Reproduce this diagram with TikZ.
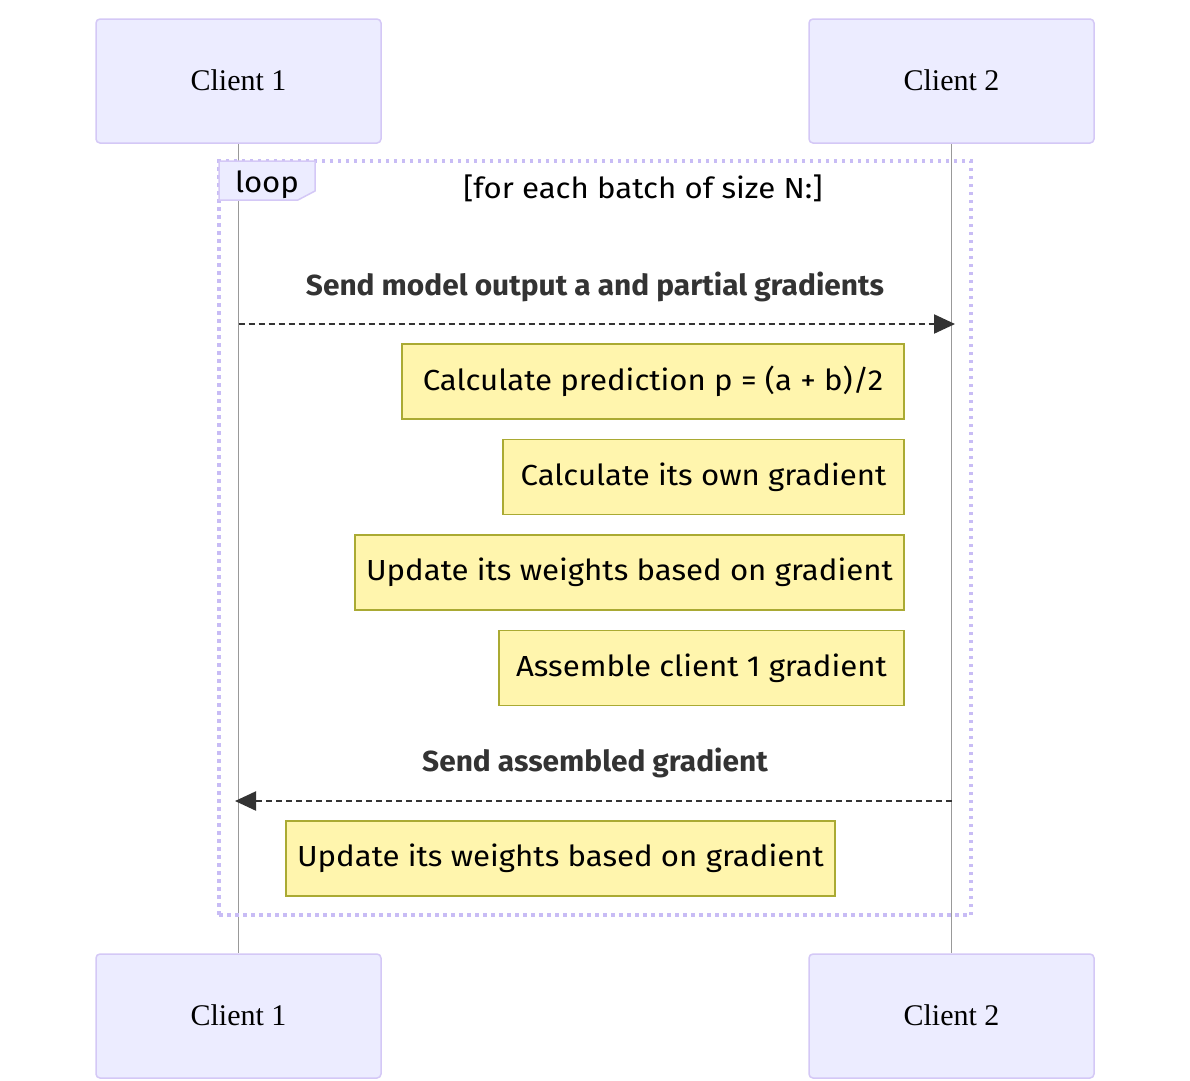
\documentclass[tikz,border=0pt]{standalone}
\usepackage{fontspec}
\setmainfont{Liberation Serif}
\newfontfamily\notefont[FakeStretch=1.076]{Fira Sans}
\newfontfamily\msgfont[FakeStretch=1.03]{Fira Sans}
\usetikzlibrary{arrows.meta}
\definecolor{actfill}{HTML}{ECECFF}
\definecolor{actdraw}{RGB}{212,200,246}
\definecolor{notefill}{HTML}{FFF5AD}
\definecolor{notedraw}{HTML}{AAAA33}
\definecolor{loopdraw}{RGB}{200,188,245}
\definecolor{msgcol}{HTML}{333333}
\definecolor{lifecol}{HTML}{999999}
\begin{document}
\begin{tikzpicture}[x=1pt,y=-1pt,
  actor/.style={draw=actdraw, fill=actfill, line width=1.5pt, rounded corners=4pt,
    minimum width=285pt, minimum height=124pt, inner sep=0pt,
    font=\fontsize{30}{36}\selectfont},
  notebox/.style={draw=notedraw, fill=notefill, line width=1.5pt, minimum height=75pt,
    inner sep=0pt, font=\notefont\fontsize{29}{34}\selectfont},
  msglabel/.style={text=msgcol, inner sep=0pt, font=\msgfont\bfseries\fontsize{29}{34}\selectfont},
  looptext/.style={inner sep=0pt, font=\notefont\fontsize{29}{34}\selectfont},
  lifeline/.style={draw=lifecol, line width=1pt},
  msg/.style={draw=msgcol, line width=2.2pt, dash pattern=on 6pt off 4pt,
    -{Triangle[length=21pt,width=19pt]}},
  loopframe/.style={draw=loopdraw, line width=3.2pt, dash pattern=on 3.5pt off 4.5pt,
    minimum width=752pt, minimum height=754pt, inner sep=0pt}
]
\useasboundingbox (0,0) rectangle (1190,1080);

% actors
\node[actor] (c1top) at (238.5,81) {\raisebox{2pt}{Client 1}};
\node[actor] (c2top) at (951.5,81) {\raisebox{2pt}{Client 2}};
\node[actor] (c1bot) at (238.5,1016) {\raisebox{2pt}{Client 1}};
\node[actor] (c2bot) at (951.5,1016) {\raisebox{2pt}{Client 2}};

% lifelines
\draw[lifeline] (c1top.south) -- (c1bot.north);
\draw[lifeline] (c2top.south) -- (c2bot.north);

% loop frame
\node[loopframe] (loop) at (595,538) {};
\draw[draw=actdraw, fill=actfill, line width=1.5pt]
  (219,161) -- (315,161) -- (315,191) -- (298,200) -- (219,200) -- cycle;
\node[looptext] (looplbl) at (267,185) {loop};
\node[looptext] (loopcond) at (643,188) {[for each batch of size N:]};

% message 1
\coordinate (m1s) at (238.5,324);
\coordinate (m1e) at (955,324);
\node[msglabel] (m1lbl) at (595,287) {Send model output a and partial gradients};
\draw[msg] (m1s) -- (m1e);

% notes
\node[notebox, minimum width=502pt] (n1) at (653,381.5) {Calculate prediction p = (a + b)/2};
\node[notebox, minimum width=401pt] (n2) at (703.5,477) {Calculate its own gradient};
\node[notebox, minimum width=549pt] (n3) at (629.5,572.5) {Update its weights based on gradient};
\node[notebox, minimum width=405pt] (n4) at (701.5,668) {Assemble client 1 gradient};

% message 2
\coordinate (m2s) at (951.5,801);
\coordinate (m2e) at (235,801);
\node[msglabel] (m2lbl) at (595,763) {Send assembled gradient};
\draw[msg] (m2s) -- (m2e);

\node[notebox, minimum width=549pt] (n5) at (560.5,858.5) {Update its weights based on gradient};
\end{tikzpicture}
\end{document}
